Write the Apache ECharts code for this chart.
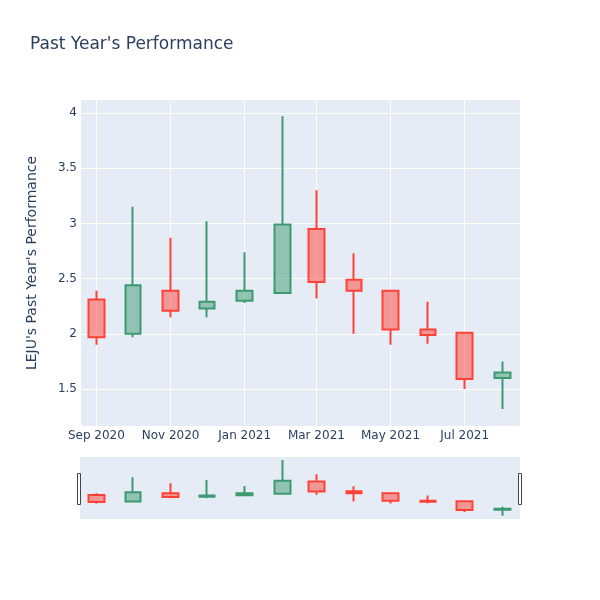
<!DOCTYPE html>
<html>
<head>
<meta charset="utf-8">
<script src="https://cdn.jsdelivr.net/npm/echarts@6/dist/echarts.min.js"></script>
<style>
html,body{margin:0;padding:0;background:#fff;}
#chart{width:600px;height:600px;}
</style>
</head>
<body>
<div id="chart"></div>
<script>
const dates  = ['2020-09-01','2020-10-01','2020-11-01','2020-12-01','2021-01-01','2021-02-01','2021-03-01','2021-04-01','2021-05-01','2021-06-01','2021-07-01','2021-08-01'];
const opens  = [2.31, 2.00, 2.39, 2.23, 2.30, 2.37, 2.95, 2.49, 2.39, 2.04, 2.01, 1.60];
const closes = [1.97, 2.44, 2.21, 2.29, 2.39, 2.99, 2.47, 2.39, 2.04, 1.99, 1.59, 1.65];
const lows   = [1.90, 1.97, 2.15, 2.15, 2.28, 2.37, 2.32, 2.00, 1.90, 1.91, 1.50, 1.32];
const highs  = [2.39, 3.15, 2.87, 3.02, 2.74, 3.97, 3.30, 2.73, 2.39, 2.29, 2.01, 1.75];
const monthNames = ['Jan','Feb','Mar','Apr','May','Jun','Jul','Aug','Sep','Oct','Nov','Dec'];

const xMin = '2020-08-18 12:00:00';
const xMax = '2021-08-15 12:00:00';
const yMin = 1.165, yMax = 4.118;

const candleData = dates.map((d, i) => [d, opens[i], closes[i], lows[i], highs[i]]);

const UP = '#3D9970', DOWN = '#FF4136';
const FONT = '"DejaVu Sans", verdana, sans-serif';
const TXT = '#2a3f5f';

const candleStyle = {
  color: 'rgba(61,153,112,0.5)',
  color0: 'rgba(255,65,54,0.5)',
  borderColor: UP,
  borderColor0: DOWN,
  borderWidth: 2
};

const chart = echarts.init(document.getElementById('chart'), null, {renderer: 'canvas'});
chart.setOption({
  animation: false,
  textStyle: {fontFamily: FONT},
  title: {
    text: "Past Year's Performance",
    left: 30, top: 36, padding: 0,
    textStyle: {fontFamily: FONT, fontSize: 17, fontWeight: 'normal', color: TXT}
  },
  grid: [
    {left: 80, right: 80, top: 100, height: 326, show: true, backgroundColor: '#E5ECF6', borderWidth: 0},
    {left: 80, right: 80, top: 457, height: 62, show: true, backgroundColor: '#E5ECF6', borderWidth: 0}
  ],
  xAxis: [
    {
      type: 'time', gridIndex: 0, min: xMin, max: xMax,
      axisLine: {show: false}, axisTick: {show: false},
      splitLine: {show: true, lineStyle: {color: '#fff', width: 1}},
      axisLabel: {
        color: TXT, fontSize: 12, fontFamily: FONT, margin: 4,
        formatter: function (v) { const d = new Date(v); return monthNames[d.getMonth()] + ' ' + d.getFullYear(); }
      }
    },
    {
      type: 'time', gridIndex: 1, min: xMin, max: xMax,
      axisLine: {show: false}, axisTick: {show: false},
      splitLine: {show: false}, axisLabel: {show: false}
    }
  ],
  yAxis: [
    {
      type: 'value', gridIndex: 0, min: yMin, max: yMax, splitNumber: 5,
      name: "LEJU's Past Year's Performance", nameLocation: 'middle', nameGap: 41,
      nameTextStyle: {color: TXT, fontSize: 14, fontFamily: FONT},
      axisLine: {show: false}, axisTick: {show: false},
      splitLine: {show: true, showMinLine: false, showMaxLine: false, lineStyle: {color: '#fff', width: 1}},
      axisLabel: {color: TXT, fontSize: 12, fontFamily: FONT, margin: 3, showMinLabel: false, showMaxLabel: false}
    },
    {
      type: 'value', gridIndex: 1, min: yMin, max: yMax,
      axisLine: {show: false}, axisTick: {show: false},
      splitLine: {show: false}, axisLabel: {show: false}
    }
  ],
  series: [
    {
      type: 'candlestick', xAxisIndex: 0, yAxisIndex: 0,
      data: candleData, encode: {x: 0, y: [1, 2, 3, 4]},
      barWidth: 16, itemStyle: candleStyle
    },
    {
      type: 'candlestick', xAxisIndex: 1, yAxisIndex: 1,
      data: candleData, encode: {x: 0, y: [1, 2, 3, 4]},
      barWidth: 16, itemStyle: candleStyle, silent: true
    }
  ],
  graphic: [
    {type: 'rect', shape: {x: 77.5, y: 473.5, width: 3, height: 31}, style: {fill: '#fff', stroke: '#444', lineWidth: 1}},
    {type: 'rect', shape: {x: 518.5, y: 473.5, width: 3, height: 31}, style: {fill: '#fff', stroke: '#444', lineWidth: 1}}
  ]
});
</script>
</body>
</html>
